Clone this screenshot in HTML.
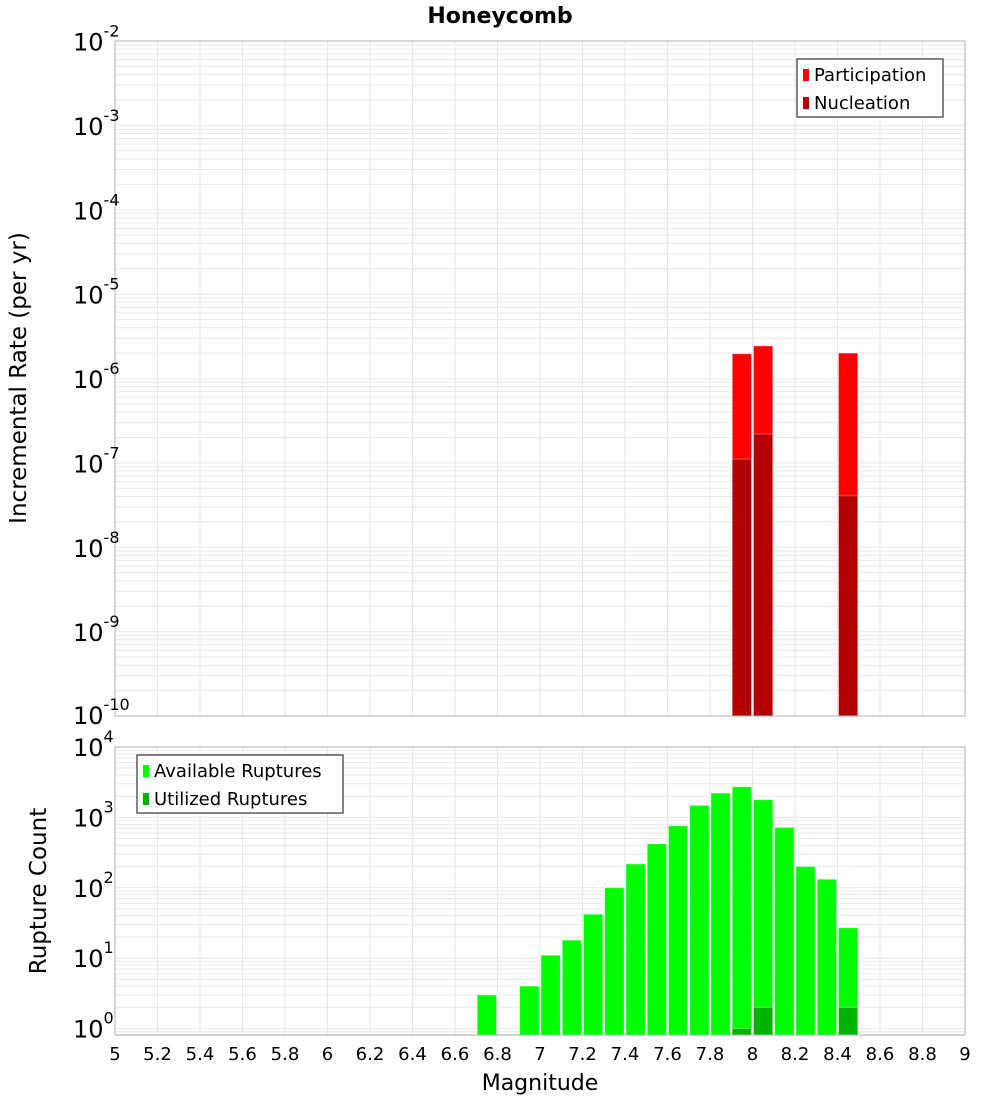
<!DOCTYPE html>
<html><head><meta charset="utf-8">
<style>
html,body{margin:0;padding:0;background:#fff;}
svg{display:block;font-family:"DejaVu Sans","Liberation Sans",sans-serif;}
</style></head>
<body>
<svg id="chart" width="1000" height="1100" viewBox="0 0 1000 1100" xmlns="http://www.w3.org/2000/svg">
<text x="500" y="23" text-anchor="middle" font-size="22" font-weight="bold">Honeycomb</text>
<g id="topPlot"></g>
<g id="botPlot"></g>
<text transform="translate(26,378) rotate(-90)" text-anchor="middle" font-size="23">Incremental Rate (per yr)</text>
<text transform="translate(46,891) rotate(-90)" text-anchor="middle" font-size="23">Rupture Count</text>
<text x="540" y="1090" text-anchor="middle" font-size="22">Magnitude</text>
</svg>
<script>
// Data
const rateMags = [7.95, 8.05, 8.45];
const participation = [1.96e-6, 2.43e-6, 2.0e-6];
const nucleation = [1.11e-7, 2.2e-7, 4.07e-8];
const countMags = [6.75, 6.95, 7.05, 7.15, 7.25, 7.35, 7.45, 7.55, 7.65, 7.75, 7.85, 7.95, 8.05, 8.15, 8.25, 8.35, 8.45];
const available = [3, 4, 11, 18, 42, 100, 217, 420, 760, 1480, 2215, 2720, 1780, 720, 200, 132, 27];
const utilizedMags = [7.95, 8.05, 8.45];
const utilized = [1, 2, 2];
const xTicks = ["5","5.2","5.4","5.6","5.8","6","6.2","6.4","6.6","6.8","7","7.2","7.4","7.6","7.8","8","8.2","8.4","8.6","8.8","9"];
const topExps = [-2,-3,-4,-5,-6,-7,-8,-9,-10];
const botExps = [4,3,2,1,0];

const NS = "http://www.w3.org/2000/svg";
const X0 = 115, X1 = 965;
const xs = m => X0 + (m - 5) / 4 * (X1 - X0);
const binW = 0.1;
const T0 = 41, T1 = 716;
const yTop = v => T0 + (-2 - Math.log10(v)) / 8 * (T1 - T0);
const B0 = 747, B1 = 1035, BD = (1028.5 - 747) / 4;
const yBot = v => 1028.5 - Math.log10(v) * BD;

function mk(parent, tag, attrs) {
  const e = document.createElementNS(NS, tag);
  for (const k in attrs) e.setAttribute(k, attrs[k]);
  parent.appendChild(e);
  return e;
}

function grid(g, y0, y1, expLo, expHi, yf) {
  for (let i = 1; i < xTicks.length - 1; i++) {
    const x = xs(parseFloat(xTicks[i]));
    const l = mk(g, "line", {x1: x, x2: x, y1: y0, y2: y1, stroke: "#e6e6e6", "stroke-width": 1});
    
    
  }
  for (let e = expLo; e < expHi; e++) {
    for (let k = 1; k <= 9; k++) {
      const y = yf(k * Math.pow(10, e));
      if (y < y0 - 0.5 || y > y1 + 0.5) continue;
      const l = mk(g, "line", {x1: X0, x2: X1, y1: y, y2: y, stroke: "#e9e9e9", "stroke-width": 1});
      
      
    }
  }
}

function frame(g, y0, y1) {
  const r = mk(g, "rect", {x: X0, y: y0, width: X1 - X0, height: y1 - y0, fill: "none", stroke: "#b0b0b0", "stroke-width": 1});
  
  
}

function bar(g, m, v, yf, base, color, name) {
  const x = xs(m - binW / 2) + 1, w = xs(m + binW / 2) - xs(m - binW / 2) - 2;
  const y = yf(v);
  const r = mk(g, "rect", {x: x, y: y, width: w, height: base - y, fill: color, stroke: "rgba(255,255,255,0.45)", "stroke-width": 0.8});
  
  
}

function powLabel(g, baseY, exp, name) {
  const t = mk(g, "text", {x: 73, y: baseY, "font-size": 24});
  
  
  t.textContent = "10";
  const s = mk(t, "tspan", {dy: -14, "font-size": 16});
  s.textContent = String(exp);
}

function legend(g, x, y, w, h, items, name) {
  const lg = mk(g, "g", {});
  
  
  mk(lg, "rect", {x: x, y: y, width: w, height: h, fill: "#fff", stroke: "#333", "stroke-width": 1.2});
  items.forEach((it, i) => {
    const sw = mk(lg, "rect", {x: x + 6, y: y + 10 + i * 28, width: 6, height: 12, fill: it[1]});
    
    
    const t = mk(lg, "text", {x: x + 17, y: y + 22 + i * 28, "font-size": 18});
    
    
    t.textContent = it[0];
  });
}

// TOP
const topG = document.getElementById("topPlot");
grid(topG, T0, T1, -10, -2, yTop);
rateMags.forEach((m, i) => bar(topG, m, participation[i], yTop, T1, "#ff0000", "participation-bar"));
rateMags.forEach((m, i) => bar(topG, m, nucleation[i], yTop, T1, "#b30000", "nucleation-bar"));
frame(topG, T0, T1);
topExps.forEach(e => powLabel(topG, (e === -10 ? T1 + 8 : yTop(Math.pow(10, e)) + 9.5), e, "top-y-tick-label"));
legend(topG, 797, 59, 146, 58, [["Participation", "#ff0000"], ["Nucleation", "#b30000"]], "rate-legend");

// BOTTOM
const botG = document.getElementById("botPlot");
grid(botG, B0, B1, -1, 4, yBot);
countMags.forEach((m, i) => bar(botG, m, available[i], yBot, B1, "#00ff00", "available-bar"));
utilizedMags.forEach((m, i) => bar(botG, m, utilized[i], yBot, B1, "#00b300", "utilized-bar"));
frame(botG, B0, B1);
botExps.forEach(e => powLabel(botG, yBot(Math.pow(10, e)) + 9, e, "bottom-y-tick-label"));
legend(botG, 137, 755, 206, 58, [["Available Ruptures", "#00ff00"], ["Utilized Ruptures", "#00b300"]], "count-legend");

// X ticks
xTicks.forEach(lbl => {
  const t = mk(botG, "text", {x: xs(parseFloat(lbl)), y: 1060, "text-anchor": "middle", "font-size": 18});
  
  
  t.textContent = lbl;
});
</script>
</body></html>
